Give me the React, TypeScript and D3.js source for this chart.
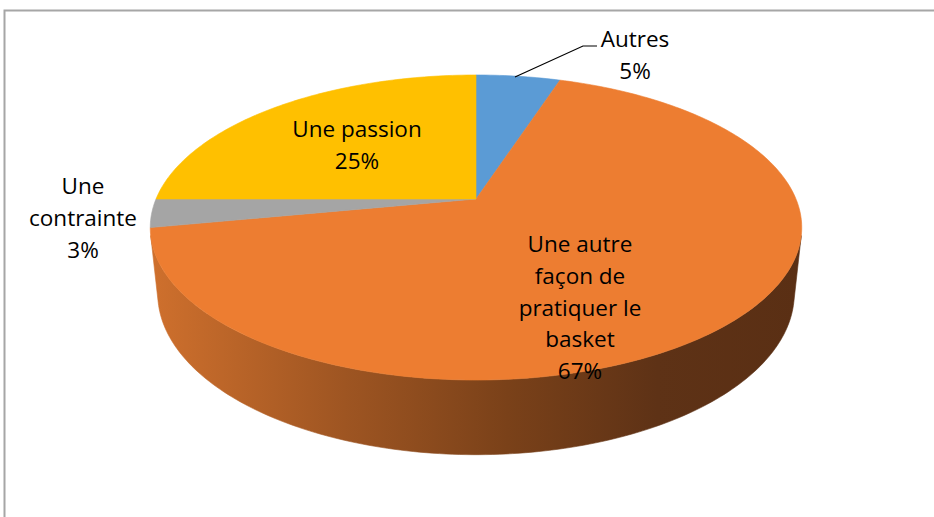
import React from "react";
import * as d3 from "d3";

const categories = ["Autres", "Une autre façon de pratiquer le basket", "Une contrainte", "Une passion"];
const values = [5, 67, 3, 25];
const colors = ["#5B9BD5", "#ED7D31", "#A5A5A5", "#FFC000"];
const labelLines = [
  ["Autres", "5%"],
  ["Une autre", "façon de", "pratiquer le", "basket", "67%"],
  ["Une", "contrainte", "3%"],
  ["Une passion", "25%"],
];
// label layout: [centerX, firstBaselineY]
const labelLayout: [number, number][] = [
  [635, 47],
  [580, 252],
  [83, 194],
  [357, 137],
];

const W = 934;
const H = 517;
const CX = 476;
const CY = 199;
const SIN_A = 0.46;
const COS_A = Math.sqrt(1 - SIN_A * SIN_A);
const DIST = 4.75;
const FOCAL = 1520;
const THICK = 0.234;

function project(theta: number, r: number, h: number): [number, number] {
  const u = r * Math.sin(theta);
  const v = r * Math.cos(theta);
  const yc = v * SIN_A + h * COS_A;
  const zc = DIST + v * COS_A - h * SIN_A;
  return [CX + (FOCAL * u) / zc, CY - (FOCAL * yc) / zc];
}

function arcPoints(a0: number, a1: number, h: number): [number, number][] {
  const n = Math.max(2, Math.ceil(((a1 - a0) * 180) / Math.PI));
  return d3.range(n + 1).map((i) => project(a0 + ((a1 - a0) * i) / n, 1, h));
}

export default function App() {
  const pie = d3.pie<number>().sort(null).value((d) => d).startAngle(0).endAngle(2 * Math.PI);
  const arcs = pie(values);
  const line = d3.line();

  // visible wall range (silhouette): cos(theta) < -1/(DIST*COS_A)
  const lim = Math.acos(-1 / (DIST * COS_A));
  const visA0 = lim;
  const visA1 = 2 * Math.PI - lim;

  const walls = arcs
    .map((a, i) => {
      const s = Math.max(a.startAngle, visA0);
      const e = Math.min(a.endAngle, visA1);
      if (e <= s) return null;
      const top = arcPoints(s, e, 0);
      const bot = arcPoints(s, e, -THICK).reverse();
      return { i, d: line([...top, ...bot])! + "Z" };
    })
    .filter(Boolean) as { i: number; d: string }[];

  const tops = arcs.map((a, i) => {
    const pts: [number, number][] = [[CX, CY], ...arcPoints(a.startAngle, a.endAngle, 0)];
    return { i, d: line(pts)! + "Z" };
  });

  const leader = d3.line()([
    [515, 77],
    [583, 46],
    [597, 46],
  ])!;

  return (
    <div style={{ position: "absolute", left: 0, top: 0 }}>
      <svg width={W} height={H} style={{ display: "block" }}>
        <defs>
          <linearGradient id="wallGrad" gradientUnits="userSpaceOnUse" x1={150} y1={0} x2={800} y2={0}>
            <stop offset="0" stopColor="#cf702d" />
            <stop offset="0.3" stopColor="#9e5522" />
            <stop offset="0.55" stopColor="#7a4119" />
            <stop offset="0.78" stopColor="#5e3216" />
            <stop offset="1" stopColor="#5a2f14" />
          </linearGradient>
        </defs>
        <rect x={0} y={0} width={W} height={H} fill="#fff" />
        <path d="M4.5,517 V10.5 H934" fill="none" stroke="#a6a6a6" strokeWidth={2} />
        {walls.map((w) => (
          <path key={"w" + w.i} d={w.d} fill="url(#wallGrad)" stroke="url(#wallGrad)" strokeWidth={0.6} />
        ))}
        {tops.map((t) => (
          <path key={"t" + t.i} d={t.d} fill={colors[t.i]} stroke={colors[t.i]} strokeWidth={0.6} strokeLinejoin="round" />
        ))}
        <path d={leader} fill="none" stroke="#000" strokeWidth={1.2} />
        {labelLines.map((lines, i) => (
          <text
            key={"l" + i}
            x={labelLayout[i][0]}
            y={labelLayout[i][1]}
            textAnchor="middle"
            fontFamily="'Open Sans', sans-serif"
            fontSize={22.5}
            fill="#000"
            aria-label={categories[i]}
          >
            {lines.map((ln, j) => (
              <tspan key={j} x={labelLayout[i][0]} y={labelLayout[i][1] + j * 31.8}>
                {ln}
              </tspan>
            ))}
          </text>
        ))}
      </svg>
    </div>
  );
}
